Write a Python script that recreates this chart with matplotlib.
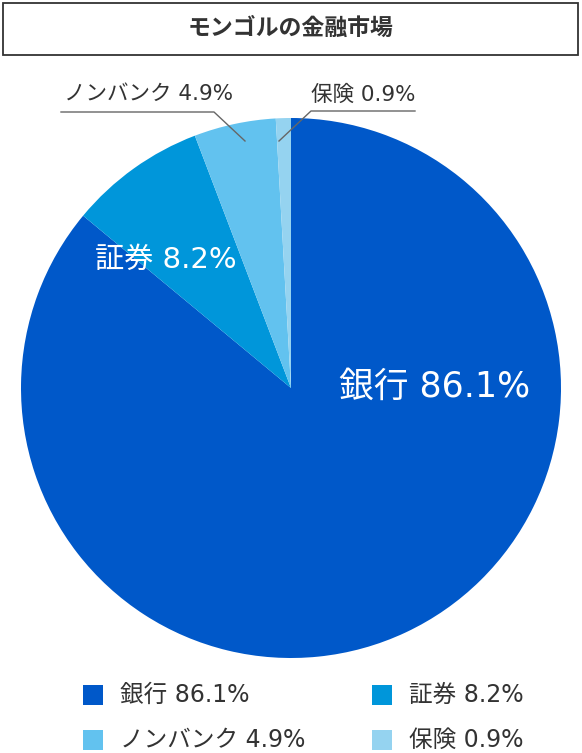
import matplotlib.pyplot as plt
from matplotlib.patches import Rectangle

# latin glyphs from DejaVu Sans, kana/kanji fall back to Noto CJK
plt.rcParams['font.family'] = ['DejaVu Sans', 'Noto Sans CJK JP']

# data
title = 'モンゴルの金融市場'
labels = ['銀行', '証券', 'ノンバンク', '保険']
shares = [86.1, 8.2, 4.9, 0.9]
colors = ['#0058C9', '#0096DA', '#62C2EF', '#95D3F0']

W, H = 582, 753
fig = plt.figure(figsize=(W / 100, H / 100), dpi=100)
ax = fig.add_axes([0, 0, 1, 1])

def py(y):
    # pixel row from top -> data y
    return H - y

txt = '#333333'

# title box
ax.add_patch(Rectangle((2.5, py(55)), 575, 52.5, fill=False, ec='#333333', lw=1.3))
ax.text(291, py(28), title, ha='center', va='center', fontsize=16.5,
        fontweight='bold', color=txt, family='Noto Sans CJK JP')

# pie
ax.pie(shares, colors=colors, startangle=90, counterclock=False,
       center=(291, py(388)), radius=270, frame=True,
       wedgeprops=dict(linewidth=0))
ax.set_xlim(0, W)
ax.set_ylim(0, H)
ax.set_aspect('equal')
ax.axis('off')

lab = [f'{l} {v}%' for l, v in zip(labels, shares)]

# labels inside
ax.text(435, py(387), lab[0], ha='center', va='center', fontsize=25, color='white')
ax.text(166, py(260), lab[1], ha='center', va='center', fontsize=21, color='white')

# labels outside with leader lines
ax.text(149, py(94), lab[2], ha='center', va='center', fontsize=15.5, color=txt)
ax.plot([61, 214, 245], [py(112), py(112), py(141)], color='#666666', lw=1)
ax.text(363, py(95), lab[3], ha='center', va='center', fontsize=15.5, color=txt)
ax.plot([415, 311, 279], [py(111), py(111), py(141)], color='#666666', lw=1)

# legend
pos = [(83, 695), (372, 695), (83, 740), (372, 740)]
for (x, y), c, t in zip(pos, colors, lab):
    ax.add_patch(Rectangle((x, py(y) - 10), 20, 20, color=c, lw=0))
    ax.text(x + 37, py(y), t, ha='left', va='center', fontsize=17, color=txt)

fig.savefig('out.png', dpi=100)
